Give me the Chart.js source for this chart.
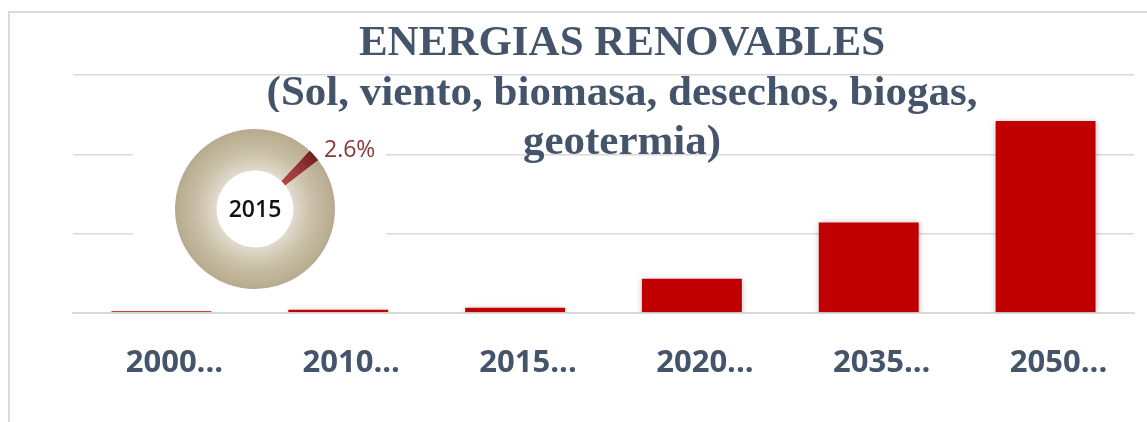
<!DOCTYPE html>
<html>
<head>
<meta charset="utf-8">
<script src="https://cdn.jsdelivr.net/npm/chart.js@4/dist/chart.umd.min.js"></script>
<style>
  html, body { margin: 0; padding: 0; background: #ffffff; }
  #wrap { position: relative; width: 1147px; height: 422px; overflow: hidden; background: #ffffff; }
  #frame { position: absolute; left: 8px; top: 11px; right: -10px; bottom: -10px;
           border-left: 2px solid #d9d9d9; border-top: 2px solid #d9d9d9; }
  #main { position: absolute; left: 0; top: 0; }
  #inset { position: absolute; left: 133px; top: 112px; width: 253px; height: 188px; background: #ffffff; }
  #donut { position: absolute; left: 0; top: 0; }
</style>
</head>
<body>
<div id="wrap">
  <div id="frame"></div>
  <canvas id="main" width="1147" height="422"></canvas>
  <div id="inset"><canvas id="donut" width="253" height="188"></canvas></div>
</div>
<script>
// ---- data ----
const categories = ['2000...', '2010...', '2015...', '2020...', '2035...', '2050...'];
const values = [1.8, 4, 6.5, 43, 114, 242];
const yTicks = [0, 100, 200, 300];
const titleLines = ['ENERGIAS RENOVABLES', '(Sol, viento, biomasa, desechos, biogas,', 'geotermia)'];
const donutLabels = ['Renovables', 'Resto'];
const donutValues = [2.6, 97.4];
const donutYear = '2015';
const donutShareLabel = '2.6%';

// ---- plugins ----
const barShadow = {
  id: 'barShadow',
  beforeDatasetsDraw(chart) {
    const c = chart.ctx;
    c.save();
    c.shadowColor = 'rgba(0,0,0,0.28)';
    c.shadowBlur = 6;
    c.shadowOffsetX = 0;
    c.shadowOffsetY = 1;
  },
  afterDatasetsDraw(chart) { chart.ctx.restore(); }
};

const titleText = {
  id: 'titleText',
  afterDraw(chart) {
    const c = chart.ctx;
    c.save();
    c.fillStyle = '#44546a';
    c.font = 'bold 43px "Liberation Serif", "Times New Roman", serif';
    c.textAlign = 'center';
    c.textBaseline = 'alphabetic';
    const baselines = [55, 105, 154];
    titleLines.forEach((t, i) => c.fillText(t, 622, baselines[i]));
    c.restore();
  }
};

// ---- main bar chart ----
new Chart(document.getElementById('main').getContext('2d'), {
  type: 'bar',
  data: {
    labels: categories,
    datasets: [{
      data: values,
      backgroundColor: '#c00000',
      borderWidth: 0,
      barPercentage: 0.565,
      categoryPercentage: 1
    }]
  },
  options: {
    responsive: false,
    animation: false,
    devicePixelRatio: 1,
    layout: { padding: { left: 73, right: 13, top: 75, bottom: 8 } },
    plugins: { legend: { display: false }, title: { display: false }, tooltip: { enabled: false } },
    scales: {
      x: {
        grid: { display: false, drawTicks: false },
        border: { display: true, color: '#d9d9d9', width: 2 },
        ticks: {
          padding: 32, maxRotation: 0, autoSkip: false, labelOffset: 13,
          color: '#44546a',
          font: { family: '"Open Sans", "Noto Sans", sans-serif', size: 31, weight: 'bold' }
        }
      },
      y: {
        min: 0, max: 300,
        afterBuildTicks: axis => { axis.ticks = yTicks.map(v => ({ value: v })); },
        grid: { color: '#d9d9d9', lineWidth: 1.5, drawTicks: false },
        border: { display: false },
        ticks: { display: false }
      }
    }
  },
  plugins: [barShadow, titleText]
});

// ---- inset doughnut ----
function arcGradient(context, inner, outer) {
  const chart = context.chart;
  const area = chart.chartArea;
  if (!area) return outer[0];
  const cx = (area.left + area.right) / 2, cy = (area.top + area.bottom) / 2;
  const r1 = Math.min(area.right - area.left, area.bottom - area.top) / 2;
  const r0 = r1 * 0.48;
  if (!isFinite(cx) || !isFinite(cy) || !isFinite(r0) || !isFinite(r1) || r1 <= 0) return outer[0];
  const g = chart.ctx.createRadialGradient(cx, cy, r0, cx, cy, r1);
  g.addColorStop(0, inner);
  g.addColorStop(0.45, outer[0]);
  g.addColorStop(1, outer[1]);
  return g;
}

const donutText = {
  id: 'donutText',
  afterDraw(chart) {
    const c = chart.ctx;
    const a = chart.chartArea;
    c.save();
    c.fillStyle = '#111111';
    c.font = '600 23px "Open Sans", "Noto Sans", sans-serif';
    c.textAlign = 'center';
    c.textBaseline = 'middle';
    c.fillText(donutYear, (a.left + a.right) / 2, (a.top + a.bottom) / 2 + 1);
    c.fillStyle = '#8b3535';
    c.font = '23px "Open Sans", "Noto Sans", sans-serif';
    c.textAlign = 'left';
    c.textBaseline = 'alphabetic';
    c.fillText(donutShareLabel, 191, 45);
    c.restore();
  }
};

new Chart(document.getElementById('donut').getContext('2d'), {
  type: 'doughnut',
  data: {
    labels: donutLabels,
    datasets: [{
      data: donutValues,
      borderWidth: 0,
      backgroundColor: ctx => ctx.dataIndex === 0
        ? arcGradient(ctx, '#b34848', ['#9a3838', '#6f2222'])
        : arcGradient(ctx, '#e1dbcc', ['#cac0a8', '#b7aa8e'])
    }]
  },
  options: {
    responsive: false,
    animation: false,
    devicePixelRatio: 1,
    cutout: '48%',
    rotation: 43,
    layout: { padding: { left: 42, top: 17, right: 51, bottom: 11 } },
    plugins: { legend: { display: false }, tooltip: { enabled: false }, title: { display: false } }
  },
  plugins: [donutText]
});
</script>
</body>
</html>
